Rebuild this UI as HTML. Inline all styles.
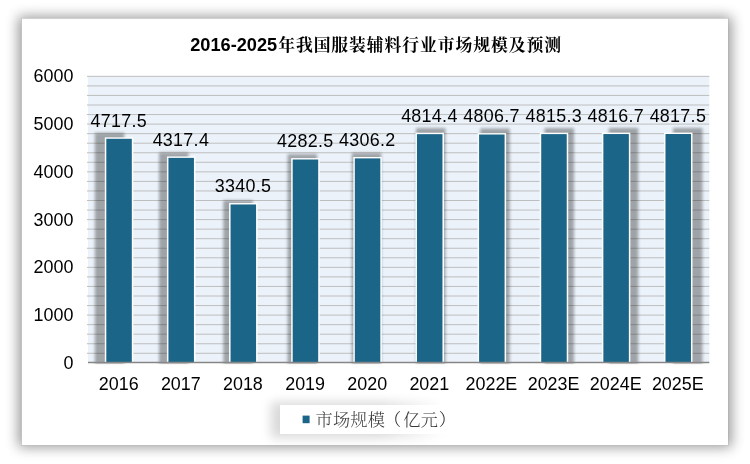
<!DOCTYPE html>
<html lang="zh-CN">
<head>
<meta charset="utf-8">
<title>2016-2025年我国服装辅料行业市场规模及预测</title>
<style>
html,body{margin:0;padding:0;background:#fff;}
body{width:750px;height:464px;overflow:hidden;position:relative;}
svg{display:block;position:absolute;left:0;top:0;}
text{font-family:"Liberation Sans","Noto Sans CJK SC",sans-serif;fill:#000;font-kerning:none;}
.ax{font-size:17.9px;}
.dl{font-size:17.9px;letter-spacing:0.3px;}
.ttl{font-family:"Liberation Sans","Noto Serif CJK SC",serif;font-weight:bold;font-size:18.2px;}
.tc{font-size:16.8px;font-weight:700;letter-spacing:0.95px;}
.lg{font-family:"Liberation Serif","Noto Serif CJK SC",serif;font-size:17.2px;font-weight:300;fill:#3a3a3a;letter-spacing:0.3px;}
</style>
</head>
<body>
<svg width="750" height="464" viewBox="0 0 750 464">
<defs>
<filter id="cardsh" x="-10%" y="-15%" width="120%" height="130%"><feGaussianBlur stdDeviation="6.5"/></filter>
<filter id="barsh" x="-50%" y="-10%" width="200%" height="120%"><feGaussianBlur stdDeviation="1.8"/></filter>
<filter id="lgsh" x="-20%" y="-60%" width="140%" height="220%"><feGaussianBlur stdDeviation="5.5"/></filter>
<linearGradient id="lgfade" gradientUnits="userSpaceOnUse" x1="380" y1="0" x2="445" y2="0"><stop offset="0" stop-color="#000" stop-opacity="1"/><stop offset="1" stop-color="#000" stop-opacity="0"/></linearGradient>
<clipPath id="plotclip"><rect x="0" y="0" width="750" height="364.2"/></clipPath>
</defs>
<rect x="0" y="0" width="750" height="464" fill="#ffffff"/>

<rect x="18.27" y="16.47" width="713.26" height="430.76" fill="#000" opacity="0.40" filter="url(#cardsh)"/>
<rect x="21.3" y="18.1" width="707.2" height="427.5" fill="#a8a8a8" opacity="0.6"/>
<rect x="21.8" y="18.6" width="706.2" height="426.5" fill="#ffffff"/>
<text class="ttl" x="190.2" y="50.7">2016-2025<tspan class="tc" dx="1.0" dy="-0.1">年我国服装辅料行业市场规模及预测</tspan></text>
<rect x="88.0" y="76.2" width="621.3" height="286.3" fill="#ebf2fa"/>
<line x1="87.0" y1="76.35" x2="709.3" y2="76.35" stroke="#bebebe" stroke-width="1"/>
<line x1="87.0" y1="85.90" x2="709.3" y2="85.90" stroke="#bebebe" stroke-width="1"/>
<line x1="87.0" y1="95.45" x2="709.3" y2="95.45" stroke="#bebebe" stroke-width="1"/>
<line x1="87.0" y1="105.00" x2="709.3" y2="105.00" stroke="#bebebe" stroke-width="1"/>
<line x1="87.0" y1="114.55" x2="709.3" y2="114.55" stroke="#bebebe" stroke-width="1"/>
<line x1="87.0" y1="124.10" x2="709.3" y2="124.10" stroke="#bebebe" stroke-width="1"/>
<line x1="87.0" y1="133.65" x2="709.3" y2="133.65" stroke="#bebebe" stroke-width="1"/>
<line x1="87.0" y1="143.20" x2="709.3" y2="143.20" stroke="#bebebe" stroke-width="1"/>
<line x1="87.0" y1="152.75" x2="709.3" y2="152.75" stroke="#bebebe" stroke-width="1"/>
<line x1="87.0" y1="162.30" x2="709.3" y2="162.30" stroke="#bebebe" stroke-width="1"/>
<line x1="87.0" y1="171.85" x2="709.3" y2="171.85" stroke="#bebebe" stroke-width="1"/>
<line x1="87.0" y1="181.40" x2="709.3" y2="181.40" stroke="#bebebe" stroke-width="1"/>
<line x1="87.0" y1="190.95" x2="709.3" y2="190.95" stroke="#bebebe" stroke-width="1"/>
<line x1="87.0" y1="200.50" x2="709.3" y2="200.50" stroke="#bebebe" stroke-width="1"/>
<line x1="87.0" y1="210.05" x2="709.3" y2="210.05" stroke="#bebebe" stroke-width="1"/>
<line x1="87.0" y1="219.60" x2="709.3" y2="219.60" stroke="#bebebe" stroke-width="1"/>
<line x1="87.0" y1="229.15" x2="709.3" y2="229.15" stroke="#bebebe" stroke-width="1"/>
<line x1="87.0" y1="238.70" x2="709.3" y2="238.70" stroke="#bebebe" stroke-width="1"/>
<line x1="87.0" y1="248.25" x2="709.3" y2="248.25" stroke="#bebebe" stroke-width="1"/>
<line x1="87.0" y1="257.80" x2="709.3" y2="257.80" stroke="#bebebe" stroke-width="1"/>
<line x1="87.0" y1="267.35" x2="709.3" y2="267.35" stroke="#bebebe" stroke-width="1"/>
<line x1="87.0" y1="276.90" x2="709.3" y2="276.90" stroke="#bebebe" stroke-width="1"/>
<line x1="87.0" y1="286.45" x2="709.3" y2="286.45" stroke="#bebebe" stroke-width="1"/>
<line x1="87.0" y1="296.00" x2="709.3" y2="296.00" stroke="#bebebe" stroke-width="1"/>
<line x1="87.0" y1="305.55" x2="709.3" y2="305.55" stroke="#bebebe" stroke-width="1"/>
<line x1="87.0" y1="315.10" x2="709.3" y2="315.10" stroke="#bebebe" stroke-width="1"/>
<line x1="87.0" y1="324.65" x2="709.3" y2="324.65" stroke="#bebebe" stroke-width="1"/>
<line x1="87.0" y1="334.20" x2="709.3" y2="334.20" stroke="#bebebe" stroke-width="1"/>
<line x1="87.0" y1="343.75" x2="709.3" y2="343.75" stroke="#bebebe" stroke-width="1"/>
<line x1="87.0" y1="353.30" x2="709.3" y2="353.30" stroke="#bebebe" stroke-width="1"/>
<text class="ax" x="73.4" y="82.4" text-anchor="end">6000</text>
<text class="ax" x="73.4" y="130.1" text-anchor="end">5000</text>
<text class="ax" x="73.4" y="177.8" text-anchor="end">4000</text>
<text class="ax" x="73.4" y="225.5" text-anchor="end">3000</text>
<text class="ax" x="73.4" y="273.2" text-anchor="end">2000</text>
<text class="ax" x="73.4" y="320.9" text-anchor="end">1000</text>
<text class="ax" x="73.4" y="368.6" text-anchor="end">0</text>
<g filter="url(#barsh)" clip-path="url(#plotclip)" opacity="0.32">
<rect x="94.82" y="132.82" width="29.47" height="231.43" fill="#000"/>
<rect x="159.07" y="152.44" width="29.47" height="211.81" fill="#000"/>
<rect x="223.31" y="200.34" width="29.47" height="163.91" fill="#000"/>
<rect x="287.55" y="154.15" width="29.47" height="210.10" fill="#000"/>
<rect x="351.79" y="152.99" width="29.47" height="211.26" fill="#000"/>
<rect x="416.04" y="128.07" width="29.47" height="236.18" fill="#000"/>
<rect x="480.28" y="128.45" width="29.47" height="235.80" fill="#000"/>
<rect x="544.52" y="128.03" width="29.47" height="236.22" fill="#000"/>
<rect x="608.76" y="127.96" width="29.47" height="236.29" fill="#000"/>
<rect x="673.01" y="127.92" width="29.47" height="236.33" fill="#000"/>
</g>
<rect x="104.81" y="137.38" width="28.50" height="225.12" fill="#ffffff"/>
<rect x="106.31" y="138.78" width="25.50" height="223.72" fill="#1b6588"/>
<rect x="166.94" y="156.46" width="28.50" height="206.04" fill="#ffffff"/>
<rect x="168.44" y="157.86" width="25.50" height="204.64" fill="#1b6588"/>
<rect x="229.07" y="203.06" width="28.50" height="159.44" fill="#ffffff"/>
<rect x="230.57" y="204.46" width="25.50" height="158.04" fill="#1b6588"/>
<rect x="291.20" y="158.12" width="28.50" height="204.38" fill="#ffffff"/>
<rect x="292.70" y="159.52" width="25.50" height="202.98" fill="#1b6588"/>
<rect x="353.33" y="156.99" width="28.50" height="205.51" fill="#ffffff"/>
<rect x="354.83" y="158.39" width="25.50" height="204.11" fill="#1b6588"/>
<rect x="415.46" y="132.75" width="28.50" height="229.75" fill="#ffffff"/>
<rect x="416.96" y="134.15" width="25.50" height="228.35" fill="#1b6588"/>
<rect x="477.59" y="133.12" width="28.50" height="229.38" fill="#ffffff"/>
<rect x="479.09" y="134.52" width="25.50" height="227.98" fill="#1b6588"/>
<rect x="539.72" y="132.71" width="28.50" height="229.79" fill="#ffffff"/>
<rect x="541.22" y="134.11" width="25.50" height="228.39" fill="#1b6588"/>
<rect x="601.86" y="132.64" width="28.50" height="229.86" fill="#ffffff"/>
<rect x="603.36" y="134.04" width="25.50" height="228.46" fill="#1b6588"/>
<rect x="663.98" y="132.61" width="28.50" height="229.89" fill="#ffffff"/>
<rect x="665.48" y="134.01" width="25.50" height="228.49" fill="#1b6588"/>
<line x1="88.0" y1="362.50" x2="709.3" y2="362.50" stroke="#868686" stroke-width="1.4"/>
<text class="dl" x="118.8" y="126.7" text-anchor="middle">4717.5</text>
<text class="dl" x="180.9" y="145.8" text-anchor="middle">4317.4</text>
<text class="dl" x="243.0" y="192.4" text-anchor="middle">3340.5</text>
<text class="dl" x="305.2" y="147.4" text-anchor="middle">4282.5</text>
<text class="dl" x="367.3" y="146.3" text-anchor="middle">4306.2</text>
<text class="dl" x="429.4" y="122.1" text-anchor="middle">4814.4</text>
<text class="dl" x="491.5" y="122.4" text-anchor="middle">4806.7</text>
<text class="dl" x="553.7" y="122.0" text-anchor="middle">4815.3</text>
<text class="dl" x="615.8" y="121.9" text-anchor="middle">4816.7</text>
<text class="dl" x="677.9" y="121.9" text-anchor="middle">4817.5</text>
<text class="ax" x="118.7" y="389.6" text-anchor="middle">2016</text>
<text class="ax" x="180.8" y="389.6" text-anchor="middle">2017</text>
<text class="ax" x="242.9" y="389.6" text-anchor="middle">2018</text>
<text class="ax" x="305.1" y="389.6" text-anchor="middle">2019</text>
<text class="ax" x="367.2" y="389.6" text-anchor="middle">2020</text>
<text class="ax" x="429.3" y="389.6" text-anchor="middle">2021</text>
<text class="ax" x="491.4" y="389.6" text-anchor="middle">2022E</text>
<text class="ax" x="553.6" y="389.6" text-anchor="middle">2023E</text>
<text class="ax" x="615.7" y="389.6" text-anchor="middle">2024E</text>
<text class="ax" x="677.8" y="389.6" text-anchor="middle">2025E</text>
<rect x="271" y="402" width="175" height="36" fill="url(#lgfade)" opacity="0.15" filter="url(#lgsh)"/>
<rect x="280" y="405" width="190" height="29" fill="#ffffff"/>
<rect x="302.6" y="415.6" width="7" height="7.6" fill="#1b6588"/>
<text class="lg" x="315.4" y="425.6">市场规模<tspan dx="-1.4">（</tspan><tspan dx="1.7">亿元</tspan><tspan dx="0.6">）</tspan></text>
</svg>
</body>
</html>
